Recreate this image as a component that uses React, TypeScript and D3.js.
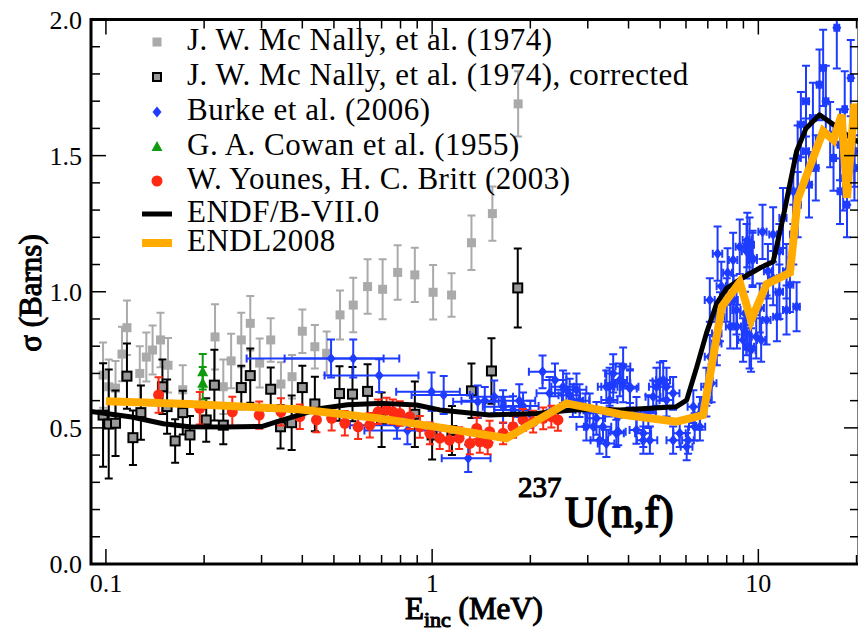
import React from 'react';
import * as d3 from 'd3';

// ---------------- data ----------------
const mcnallyE = [0.098, 0.102, 0.107, 0.112, 0.116, 0.127, 0.133, 0.139, 0.147, 0.155, 0.172, 0.216, 0.229, 0.242, 0.26, 0.277, 0.296, 0.32, 0.344, 0.372, 0.40, 0.437, 0.475, 0.522, 0.573, 0.634, 0.705, 0.784, 0.885, 1.007, 1.147, 1.32, 1.53, 1.835];
const mcnallySigma = [0.694, 0.651, 0.646, 0.771, 0.868, 0.70, 0.76, 0.786, 0.823, 0.73, 0.64, 0.834, 0.651, 0.746, 0.823, 0.884, 0.738, 0.823, 0.661, 0.688, 0.855, 0.798, 0.774, 0.915, 0.951, 1.019, 1.009, 1.071, 1.062, 0.998, 0.988, 1.18, 1.287, 1.69];
const mcnallyErr = [0.12, 0.1, 0.1, 0.1, 0.1, 0.1, 0.09, 0.09, 0.1, 0.1, 0.09, 0.12, 0.1, 0.1, 0.1, 0.1, 0.09, 0.08, 0.08, 0.08, 0.08, 0.08, 0.08, 0.09, 0.1, 0.1, 0.11, 0.1, 0.1, 0.1, 0.08, 0.1, 0.1, 0.12];

const corrE = [0.098, 0.102, 0.107, 0.116, 0.121, 0.128, 0.149, 0.154, 0.163, 0.172, 0.181, 0.203, 0.215, 0.229, 0.26, 0.277, 0.32, 0.343, 0.371, 0.40, 0.437, 0.52, 0.57, 0.634, 0.70, 0.885, 1.0, 1.15, 1.32, 1.52, 1.83];
const corrSigma = [0.547, 0.514, 0.517, 0.69, 0.464, 0.556, 0.651, 0.578, 0.452, 0.556, 0.474, 0.529, 0.657, 0.51, 0.648, 0.692, 0.642, 0.504, 0.519, 0.648, 0.588, 0.626, 0.624, 0.634, 0.53, 0.55, 0.474, 0.49, 0.636, 0.709, 1.014];
const corrErr = [0.19, 0.2, 0.12, 0.12, 0.1, 0.1, 0.1, 0.1, 0.08, 0.08, 0.07, 0.08, 0.13, 0.07, 0.08, 0.1, 0.08, 0.08, 0.1, 0.08, 0.1, 0.1, 0.1, 0.1, 0.1, 0.12, 0.09, 0.09, 0.1, 0.12, 0.145];

const burkeE = [0.49, 0.573, 0.688, 0.78, 0.84, 0.996, 1.085, 1.29, 1.38, 1.45, 1.55, 1.65, 1.77, 1.9, 2.0, 2.18, 2.38, 2.52, 2.58, 2.64, 2.7, 2.83, 2.95, 3.04, 3.12, 3.19, 3.26, 3.34, 3.5, 3.59, 3.67, 3.72, 3.85, 4.04, 4.23, 4.44, 4.6, 4.76, 4.99, 5.23, 5.48, 5.74, 6.09, 6.38, 6.62, 6.93, 7.1, 7.19, 7.46, 7.5, 7.63, 7.7, 8.0, 8.05, 8.37, 8.4, 8.6, 8.77, 9.1, 9.2, 9.25, 9.4, 9.5, 9.6, 9.85, 10.1, 10.2, 10.3, 10.6, 10.7, 11.1, 11.4, 11.6, 11.9, 12.2, 12.5, 12.8, 13.1, 13.2, 13.5, 14.0, 14.3, 15.0, 15.8, 16.6, 17.4, 17.8, 18.2, 18.4, 18.7, 19.7,
  1.85, 2.29, 2.77, 2.97, 3.42, 3.42, 3.59, 3.76, 3.85, 4.04, 3.5, 4.23, 4.44, 4.65, 4.87, 5.11, 5.23, 5.48, 6.03, 6.32, 6.62, 6.93, 7.1, 7.46, 8.2, 8.57, 8.98, 9.4, 9.2, 9.6, 11.1, 11.6, 12.2, 12.8, 13.2, 14.0, 14.7, 15.4, 16.1, 17.0, 17.8, 19.2, 19.7];
const burkeSigma = [0.755, 0.755, 0.692, 0.51, 0.49, 0.633, 0.621, 0.388, 0.596, 0.60, 0.614, 0.578, 0.566, 0.58, 0.55, 0.706, 0.676, 0.651, 0.64, 0.62, 0.60, 0.60, 0.566, 0.566, 0.504, 0.535, 0.455, 0.504, 0.651, 0.664, 0.48, 0.486, 0.664, 0.645, 0.492, 0.455, 0.56, 0.614, 0.67, 0.651, 0.455, 0.48, 0.455, 0.504, 0.553, 0.602, 0.97, 0.664, 0.81, 1.14, 0.908, 1.02, 0.97, 1.07, 1.117, 0.97, 0.872, 1.165, 0.92, 0.847, 1.19, 1.173, 0.786, 1.117, 0.835, 0.94, 0.823, 1.22, 0.896, 1.075, 1.21, 0.908, 1.149, 1.271, 0.933, 1.026, 1.369, 0.945, 1.491, 1.614, 1.70, 1.393, 1.455, 1.822, 1.577, 1.97, 1.369, 1.418, 1.67, 1.32, 1.516,
  0.60, 0.627, 0.64, 0.504, 0.443, 0.651, 0.70, 0.676, 0.725, 0.651, 0.602, 0.553, 0.48, 0.455, 0.651, 0.676, 0.602, 0.627, 0.431, 0.578, 0.504, 0.651, 0.761, 0.847, 0.872, 0.933, 0.823, 0.798, 1.149, 1.124, 1.05, 1.0, 1.075, 1.21, 1.32, 1.516, 1.638, 1.76, 1.70, 1.491, 1.54, 1.785, 1.455];
const burkeErr = [0.07, 0.07, 0.06, 0.05, 0.05, 0.07, 0.07, 0.05, 0.06, 0.05, 0.06, 0.06, 0.05, 0.05, 0.05, 0.06, 0.06, 0.06, 0.06, 0.06, 0.06, 0.06, 0.06, 0.06, 0.05, 0.06, 0.05, 0.05, 0.07, 0.07, 0.05, 0.05, 0.07, 0.07, 0.05, 0.05, 0.06, 0.06, 0.07, 0.07, 0.05, 0.05, 0.05, 0.05, 0.06, 0.06, 0.08, 0.07, 0.08, 0.1, 0.09, 0.09, 0.08, 0.09, 0.1, 0.09, 0.08, 0.1, 0.08, 0.08, 0.1, 0.1, 0.08, 0.1, 0.08, 0.09, 0.08, 0.1, 0.09, 0.1, 0.1, 0.09, 0.1, 0.11, 0.09, 0.1, 0.12, 0.09, 0.12, 0.12, 0.13, 0.12, 0.12, 0.14, 0.12, 0.15, 0.12, 0.12, 0.14, 0.12, 0.13,
  0.06, 0.06, 0.06, 0.05, 0.05, 0.06, 0.07, 0.06, 0.07, 0.06, 0.06, 0.06, 0.05, 0.05, 0.07, 0.07, 0.06, 0.06, 0.05, 0.06, 0.05, 0.07, 0.08, 0.08, 0.08, 0.09, 0.08, 0.08, 0.1, 0.1, 0.1, 0.1, 0.1, 0.11, 0.12, 0.12, 0.13, 0.13, 0.13, 0.12, 0.13, 0.14, 0.12];
const burkeDE = [0.22, 0.22, 0.22, 0.22, 0.22, 0.22, 0.22, 0.22, 0.22, 0.22, 0.22, 0.22, 0.22, 0.22, 0.22, 0.2, 0.2, 0.2, 0.2, 0.2, 0.2, 0.2, 0.2, 0.2, 0.2, 0.2, 0.2, 0.2, 0.2, 0.2, 0.2, 0.2, 0.2, 0.2, 0.2, 0.2, 0.25, 0.25, 0.25, 0.25, 0.25, 0.25, 0.25, 0.25, 0.25, 0.25, 0.25, 0.25, 0.25, 0.25, 0.25, 0.25, 0.25, 0.25, 0.25, 0.25, 0.25, 0.25, 0.3, 0.3, 0.3, 0.3, 0.3, 0.3, 0.3, 0.3, 0.3, 0.3, 0.3, 0.3, 0.3, 0.3, 0.3, 0.3, 0.3, 0.3, 0.3, 0.3, 0.3, 0.3, 0.3, 0.3, 0.3, 0.3, 0.3, 0.3, 0.3, 0.3, 0.3, 0.3, 0.3,
  0.22, 0.2, 0.2, 0.2, 0.2, 0.2, 0.2, 0.2, 0.2, 0.25, 0.2, 0.25, 0.25, 0.25, 0.25, 0.25, 0.25, 0.25, 0.25, 0.25, 0.25, 0.25, 0.25, 0.25, 0.25, 0.25, 0.3, 0.3, 0.3, 0.3, 0.3, 0.3, 0.3, 0.3, 0.3, 0.3, 0.3, 0.3, 0.3, 0.3, 0.3, 0.3, 0.3];

const cowanE = [0.198, 0.198];
const cowanSigma = [0.706, 0.664];
const cowanErr = [0.065, 0.06];

const younesE = [0.145, 0.194, 0.244, 0.295, 0.344, 0.393, 0.442, 0.492, 0.54, 0.593, 0.644, 0.683, 0.725, 0.758, 0.796, 0.854, 0.917, 0.984, 1.055, 1.13, 1.21, 1.305, 1.37, 1.4, 1.48, 1.5, 1.65, 1.77, 1.9, 2.04, 2.19, 2.32, 2.43];
const younesSigma = [0.621, 0.572, 0.559, 0.547, 0.559, 0.541, 0.529, 0.535, 0.517, 0.504, 0.51, 0.559, 0.566, 0.559, 0.553, 0.541, 0.504, 0.48, 0.462, 0.455, 0.462, 0.443, 0.498, 0.449, 0.443, 0.486, 0.48, 0.504, 0.529, 0.523, 0.535, 0.541, 0.529];
const younesErr = [0.065, 0.06, 0.055, 0.05, 0.05, 0.045, 0.045, 0.045, 0.045, 0.045, 0.045, 0.045, 0.045, 0.045, 0.045, 0.045, 0.04, 0.04, 0.04, 0.04, 0.04, 0.04, 0.04, 0.04, 0.04, 0.04, 0.04, 0.04, 0.04, 0.04, 0.04, 0.04, 0.04];

const endfE = [0.09, 0.12, 0.15, 0.18, 0.23, 0.30, 0.335, 0.39, 0.45, 0.55, 0.708, 0.896, 1.055, 1.5, 2.09, 2.64, 3.26, 3.76, 5.61, 6.03, 6.48, 6.93, 7.46, 8.0, 8.77, 10.2, 11.1, 11.9, 13.1, 14.0, 15.4, 17.0, 19.2, 20.35];
const endfSigma = [0.56, 0.54, 0.515, 0.504, 0.503, 0.505, 0.523, 0.547, 0.57, 0.585, 0.59, 0.584, 0.566, 0.547, 0.553, 0.565, 0.568, 0.566, 0.578, 0.602, 0.725, 0.847, 0.958, 1.013, 1.045, 1.09, 1.11, 1.271, 1.516, 1.60, 1.65, 1.614, 1.565, 1.55];

const endlE = [0.1, 0.18, 0.39, 0.69, 1.1, 1.69, 2.58, 3.26, 3.76, 5.61, 6.77, 7.73, 8.77, 9.5, 10.6, 12.5, 13.2, 15.8, 17.0, 18.0, 18.7, 19.7, 20.35];
const endlSigma = [0.598, 0.588, 0.568, 0.535, 0.498, 0.462, 0.59, 0.566, 0.55, 0.523, 0.547, 0.945, 1.035, 0.895, 1.028, 1.07, 1.34, 1.59, 1.557, 1.65, 1.345, 1.69, 1.6];

const yTicks = [0, 0.5, 1.0, 1.5, 2.0];
const yTickLabels = ['0.0', '0.5', '1.0', '1.5', '2.0'];
const yMinor = [0.1, 0.2, 0.3, 0.4, 0.6, 0.7, 0.8, 0.9, 1.1, 1.2, 1.3, 1.4, 1.6, 1.7, 1.8, 1.9];
const xTicks = [0.1, 1, 10];
const xTickLabels = ['0.1', '1', '10'];
const xMinor = [0.2, 0.3, 0.4, 0.5, 0.6, 0.7, 0.8, 0.9, 2, 3, 4, 5, 6, 7, 8, 9, 20];

const legendLabels = [
  'J. W. Mc Nally, et al. (1974)',
  'J. W. Mc Nally, et al. (1974), corrected',
  'Burke et al. (2006)',
  'G. A. Cowan et al. (1955)',
  'W. Younes, H. C. Britt (2003)',
  'ENDF/B-VII.0',
  'ENDL2008',
];

// ---------------- styles ----------------
const C_GRAY = '#aaaaaa';
const C_CORR = '#999999';
const C_BLUE = '#1e3cff';
const C_GREEN = '#109a10';
const C_RED = '#ff2a14';
const C_ORANGE = '#ffab00';
const FONT = '"Liberation Serif", "Times New Roman", serif';

const L = 91, R = 859, T = 19.5, B = 564;
const x = d3.scaleLog().domain([0.09, 20.35]).range([L, R]);
const y = d3.scaleLinear().domain([0, 2]).range([B, T]);

function errY(cx: number, v: number, e: number, cap: number) {
  const y0 = y(v - e), y1 = y(v + e);
  return `M${cx},${y0}V${y1}M${cx - cap},${y0}H${cx + cap}M${cx - cap},${y1}H${cx + cap}`;
}
function errX(E: number, v: number, dE: number, cap: number) {
  const cy = y(v);
  const x0 = x(Math.max(E - dE, 0.05)), x1 = x(E + dE);
  return `M${x0},${cy}H${x1}M${x0},${cy - cap}V${cy + cap}M${x1},${cy - cap}V${cy + cap}`;
}

const lineGen = d3.line<[number, number]>().x((d) => x(d[0])).y((d) => y(d[1]));

const boldStyle = { stroke: '#000', strokeWidth: 1.1, paintOrder: 'stroke' as const };

export default function App() {
  const endf = lineGen(endfE.map((e, i) => [e, endfSigma[i]] as [number, number])) || '';
  const endl = lineGen(endlE.map((e, i) => [e, endlSigma[i]] as [number, number])) || '';
  const legendY = [42, 77, 112, 147, 181, 214, 243];
  const lx = 157, tx = 187;

  return (
    <svg width={858} height={631} style={{ position: 'absolute', left: 0, top: 0, background: '#fff' }} fontFamily={FONT}>
      <defs>
        <clipPath id="plot">
          <rect x={L} y={T} width={R - L} height={B - T} />
        </clipPath>
      </defs>
      <rect x={0} y={0} width={858} height={631} fill="#fff" />

      <g clipPath="url(#plot)">
        {/* McNally raw */}
        <g>
          {mcnallyE.map((e, i) => (
            <path key={'mg' + i} d={errY(x(e), mcnallySigma[i], mcnallyErr[i], 4)} stroke={C_GRAY} strokeWidth={2} fill="none" />
          ))}
          {mcnallyE.map((e, i) => (
            <rect key={'mm' + i} x={x(e) - 4.5} y={y(mcnallySigma[i]) - 4.5} width={9} height={9} fill={C_GRAY} />
          ))}
        </g>
        {/* McNally corrected */}
        <g>
          {corrE.map((e, i) => (
            <path key={'cg' + i} d={errY(x(e), corrSigma[i], corrErr[i], 4)} stroke="#000" strokeWidth={2} fill="none" />
          ))}
          {corrE.map((e, i) => (
            <rect key={'cm' + i} x={x(e) - 4.5} y={y(corrSigma[i]) - 4.5} width={9} height={9} fill={C_CORR} stroke="#000" strokeWidth={2} />
          ))}
        </g>
        {/* Burke */}
        <g>
          {burkeE.map((e, i) => (
            <g key={'b' + i}>
              <path d={errY(x(e), burkeSigma[i], burkeErr[i], 4)} stroke={C_BLUE} strokeWidth={2} fill="none" />
              <path d={errX(e, burkeSigma[i], burkeDE[i], 4)} stroke={C_BLUE} strokeWidth={2} fill="none" />
            </g>
          ))}
          {burkeE.map((e, i) => {
            const cx = x(e), cy = y(burkeSigma[i]);
            return <path key={'bm' + i} d={`M${cx},${cy - 5.5}L${cx + 4.5},${cy}L${cx},${cy + 5.5}L${cx - 4.5},${cy}Z`} fill={C_BLUE} />;
          })}
        </g>
        {/* Cowan */}
        <g>
          {cowanE.map((e, i) => {
            const cx = x(e), cy = y(cowanSigma[i]);
            return (
              <g key={'g' + i}>
                <path d={errY(cx, cowanSigma[i], cowanErr[i], 4)} stroke={C_GREEN} strokeWidth={2} fill="none" />
                <path d={`M${cx},${cy - 6}L${cx + 5.5},${cy + 4.5}L${cx - 5.5},${cy + 4.5}Z`} fill={C_GREEN} />
              </g>
            );
          })}
        </g>
        {/* Younes */}
        <g>
          {younesE.map((e, i) => (
            <path key={'yg' + i} d={errY(x(e), younesSigma[i], younesErr[i], 4)} stroke={C_RED} strokeWidth={2} fill="none" />
          ))}
          {younesE.map((e, i) => (
            <circle key={'ym' + i} cx={x(e)} cy={y(younesSigma[i])} r={5.5} fill={C_RED} />
          ))}
        </g>
        <path d={endf} stroke="#000" strokeWidth={5} fill="none" strokeLinejoin="round" />
        <path d={endl} stroke={C_ORANGE} strokeWidth={8} fill="none" strokeLinejoin="miter" />
      </g>

      {/* ticks */}
      <g stroke="#000" strokeWidth={1.5}>
        {yTicks.map((v) => (
          <g key={'yt' + v}>
            <line x1={L} x2={L + 15} y1={y(v)} y2={y(v)} />
            <line x1={R} x2={R - 15} y1={y(v)} y2={y(v)} />
          </g>
        ))}
        {yMinor.map((v) => (
          <g key={'ym' + v}>
            <line x1={L} x2={L + 9} y1={y(v)} y2={y(v)} />
            <line x1={R} x2={R - 9} y1={y(v)} y2={y(v)} />
          </g>
        ))}
        {xTicks.map((v) => (
          <g key={'xt' + v}>
            <line x1={x(v)} x2={x(v)} y1={B} y2={B - 15} />
            <line x1={x(v)} x2={x(v)} y1={T} y2={T + 15} />
          </g>
        ))}
        {xMinor.map((v) => (
          <g key={'xm' + v}>
            <line x1={x(v)} x2={x(v)} y1={B} y2={B - 9} />
            <line x1={x(v)} x2={x(v)} y1={T} y2={T + 9} />
          </g>
        ))}
      </g>
      {/* frame */}
      <rect x={L} y={T} width={R - L} height={B - T} fill="none" stroke="#000" strokeWidth={3} />

      {/* tick labels */}
      <g fontSize={26} fill="#000">
        {yTicks.map((v, i) => (
          <text key={'yl' + v} x={82} y={y(v) + 9} textAnchor="end">{yTickLabels[i]}</text>
        ))}
        {xTicks.map((v, i) => (
          <text key={'xl' + v} x={x(v)} y={592} textAnchor="middle">{xTickLabels[i]}</text>
        ))}
      </g>

      {/* axis titles (synthetic bold) */}
      <text transform="translate(41,293) rotate(-90)" textAnchor="middle" fontSize={31} style={boldStyle}>σ (Barns)</text>
      <text x={405} y={619} fontSize={31} style={boldStyle}>
        E<tspan fontSize={22} dy={8}>inc</tspan><tspan dy={-8}> (MeV)</tspan>
      </text>

      {/* annotation */}
      <text x={518} y={497} fontSize={29} style={boldStyle}>237</text>
      <text x={565} y={527} fontSize={44} style={{ ...boldStyle, strokeWidth: 1.6 }}>U(n,f)</text>

      {/* legend */}
      <g fontSize={31}>
        <rect x={lx - 4.5} y={legendY[0] - 4.5} width={9} height={9} fill={C_GRAY} />
        <rect x={lx - 4} y={legendY[1] - 4} width={8} height={8} fill={C_CORR} stroke="#000" strokeWidth={2} />
        <path d={`M${lx},${legendY[2] - 5.5}L${lx + 4.5},${legendY[2]}L${lx},${legendY[2] + 5.5}L${lx - 4.5},${legendY[2]}Z`} fill={C_BLUE} />
        <path d={`M${lx},${legendY[3] - 6}L${lx + 5.5},${legendY[3] + 4}L${lx - 5.5},${legendY[3] + 4}Z`} fill={C_GREEN} />
        <circle cx={lx} cy={legendY[4]} r={5.5} fill={C_RED} />
        <line x1={142} x2={172} y1={legendY[5]} y2={legendY[5]} stroke="#000" strokeWidth={5} />
        <line x1={142} x2={172} y1={legendY[6]} y2={legendY[6]} stroke={C_ORANGE} strokeWidth={8} />
        {legendLabels.map((s, i) => (
          <text key={'lg' + i} x={tx} y={legendY[i] + 8} letterSpacing={0.5}>{s}</text>
        ))}
      </g>
    </svg>
  );
}
